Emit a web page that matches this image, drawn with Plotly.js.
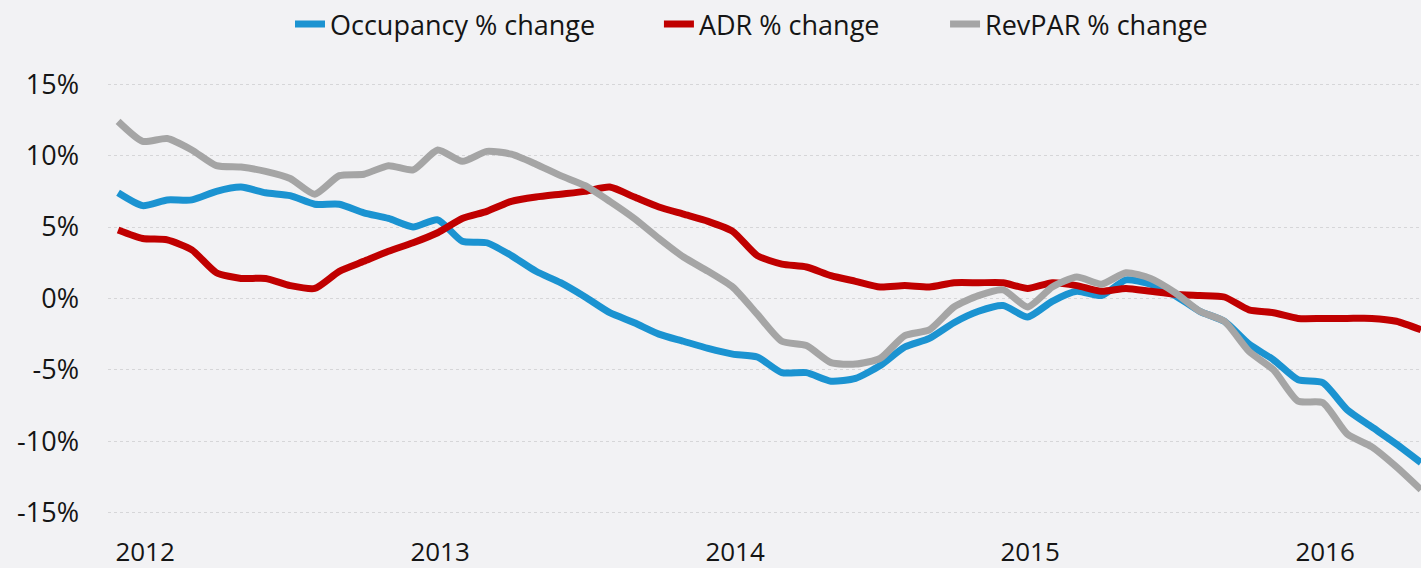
<!DOCTYPE html>
<html>
<head>
<meta charset="utf-8">
<script src="https://cdn.plot.ly/plotly-3.0.1.min.js"></script>
<style>html,body{margin:0;padding:0;background:#f2f2f4;}#chart{width:1421px;height:568px;}</style>
</head>
<body>
<div id="chart"></div>
<script>
// Monthly observations, Jan 2012 .. Jun 2016
const months = [
  "2012-01","2012-02","2012-03","2012-04","2012-05","2012-06","2012-07","2012-08","2012-09","2012-10","2012-11","2012-12",
  "2013-01","2013-02","2013-03","2013-04","2013-05","2013-06","2013-07","2013-08","2013-09","2013-10","2013-11","2013-12",
  "2014-01","2014-02","2014-03","2014-04","2014-05","2014-06","2014-07","2014-08","2014-09","2014-10","2014-11","2014-12",
  "2015-01","2015-02","2015-03","2015-04","2015-05","2015-06","2015-07","2015-08","2015-09","2015-10","2015-11","2015-12",
  "2016-01","2016-02","2016-03","2016-04","2016-05","2016-06"
];
const occupancy = [
  7.4, 6.5, 6.9, 6.9, 7.5, 7.8, 7.4, 7.2, 6.6, 6.6, 6.0, 5.6,
  5.0, 5.5, 4.0, 3.9, 3.0, 1.9, 1.1, 0.1, -1.0, -1.7, -2.5, -3.0,
  -3.5, -3.9, -4.1, -5.2, -5.2, -5.8, -5.6, -4.7, -3.4, -2.8, -1.7, -0.9,
  -0.5, -1.3, -0.2, 0.5, 0.2, 1.3, 1.0, 0.2, -0.9, -1.6, -3.2, -4.3,
  -5.7, -5.9, -7.8, -9.0, -10.2, -11.5
];
const adr = [
  4.8, 4.2, 4.1, 3.4, 1.8, 1.4, 1.4, 0.9, 0.7, 1.9, 2.6, 3.3,
  3.9, 4.6, 5.6, 6.1, 6.8, 7.1, 7.3, 7.5, 7.8, 7.1, 6.4, 5.9,
  5.4, 4.7, 3.0, 2.4, 2.2, 1.6, 1.2, 0.8, 0.9, 0.8, 1.1, 1.1,
  1.1, 0.7, 1.1, 0.9, 0.5, 0.7, 0.5, 0.3, 0.2, 0.1, -0.8, -1.0,
  -1.4, -1.4, -1.4, -1.4, -1.6, -2.2
];
const revpar = [
  12.4, 11.0, 11.2, 10.4, 9.3, 9.2, 8.9, 8.4, 7.3, 8.6, 8.7, 9.3,
  9.0, 10.4, 9.6, 10.3, 10.1, 9.4, 8.6, 7.9, 6.8, 5.6, 4.2, 2.9,
  1.9, 0.8, -1.1, -3.0, -3.3, -4.5, -4.6, -4.2, -2.6, -2.2, -0.6, 0.2,
  0.6, -0.6, 0.8, 1.5, 1.0, 1.8, 1.4, 0.4, -0.9, -1.6, -3.7, -5.0,
  -7.2, -7.3, -9.5, -10.4, -11.8, -13.4
];
const yearLabels = ["2012","2013","2014","2015","2016"];
const yTicks = [15, 10, 5, 0, -5, -10, -15];

const xIdx = months.map((m, i) => i);
const yearTickPos = yearLabels.map((y, k) => k * 12 + 1.1);

const lineOpts = (color) => ({ color: color, width: 7, shape: 'spline', smoothing: 0.6 });

const traces = [
  { x: xIdx, y: occupancy, type: 'scatter', mode: 'lines', name: 'Occupancy % change', line: lineOpts('#1b93d1'), legend: 'legend' },
  { x: xIdx, y: adr, type: 'scatter', mode: 'lines', name: 'ADR % change', line: lineOpts('#c00000'), legend: 'legend2' },
  { x: xIdx, y: revpar, type: 'scatter', mode: 'lines', name: 'RevPAR % change', line: lineOpts('#a5a5a5'), legend: 'legend3' }
];

const legendBase = (xpos) => ({
  orientation: 'h', x: xpos, xanchor: 'left', y: 1.075, yanchor: 'middle',
  font: { size: 27, color: '#151515' }, bgcolor: 'rgba(0,0,0,0)', itemwidth: 30
});

const layout = {
  width: 1421, height: 568,
  paper_bgcolor: '#f2f2f4', plot_bgcolor: '#f2f2f4',
  margin: { l: 108, r: 0, t: 60, b: 34, autoexpand: false },
  font: { family: 'Open Sans, Noto Sans, sans-serif', color: '#151515', size: 28 },
  showlegend: true,
  legend: legendBase(0.1386),
  legend2: legendBase(0.4196),
  legend3: legendBase(0.6375),
  xaxis: {
    range: [-0.41, 53], showgrid: false, zeroline: false, showline: false, automargin: false,
    tickmode: 'array', tickvals: yearTickPos, ticktext: yearLabels,
    ticks: '', tickfont: { size: 26 }, ticklabelstandoff: 0
  },
  yaxis: {
    range: [-16.5, 16.7], zeroline: false, showline: false, automargin: false,
    tickmode: 'array', tickvals: yTicks, ticktext: yTicks.map(v => v + '%'),
    ticks: '', tickfont: { size: 27 }, ticklabelstandoff: 28,
    showgrid: true, gridcolor: '#d6d6d8', gridwidth: 1, griddash: 'dot'
  }
};

Plotly.newPlot('chart', traces, layout, { staticPlot: true, displayModeBar: false });
</script>
</body>
</html>
